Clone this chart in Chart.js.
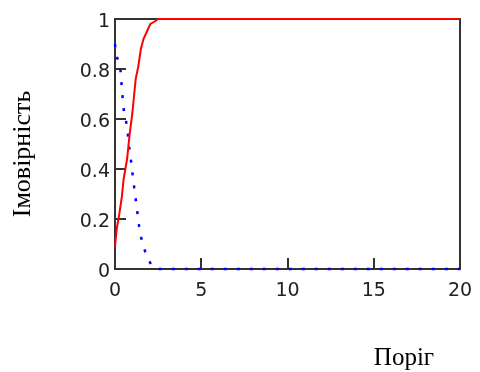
<!DOCTYPE html>
<html>
<head>
<meta charset="utf-8">
<script src="https://cdn.jsdelivr.net/npm/chart.js@4"></script>
<style>
  html, body { margin: 0; padding: 0; background: #fff; }
  #wrap { width: 480px; height: 372px; }
</style>
</head>
<body>
<div id="wrap"><canvas id="chart" width="480" height="372"></canvas></div>
<script>
// values
const redX = [0, 0.1, 0.25, 0.4, 0.5, 0.7, 0.85, 1.0, 1.1, 1.2, 1.35, 1.5, 1.65, 1.85, 2.05, 2.3, 2.5, 20];
const redY = [0.09, 0.16, 0.22, 0.29, 0.36, 0.44, 0.54, 0.62, 0.69, 0.76, 0.81, 0.88, 0.92, 0.95, 0.98, 0.99, 1, 1];
const blueX = [0, 0.05, 0.3, 0.4, 0.5, 0.7, 0.8, 0.9, 1.05, 1.2, 1.4, 1.5, 1.65, 1.85, 2.15, 2.5, 20];
const blueY = [0.9, 0.86, 0.81, 0.72, 0.64, 0.57, 0.5, 0.45, 0.36, 0.28, 0.17, 0.13, 0.09, 0.05, 0.01, 0, 0];
const xTicks = [0, 5, 10, 15, 20];
const yTicks = [0, 0.2, 0.4, 0.6, 0.8, 1];
const xTitle = "Поріг";
const yTitle = "Імовірність";

const toPoints = (xs, ys) => xs.map((x, i) => ({ x: x, y: ys[i] }));

const axisColor = "#333";
const tickFont = { family: "DejaVu Sans", size: 19 };

// frame round the plot + the two axis titles (drawn under the lines)
const framePlugin = {
  id: "frame",
  beforeDatasetsDraw(chart) {
    const { ctx, chartArea } = chart;
    ctx.save();
    ctx.strokeStyle = axisColor;
    ctx.lineWidth = 2;
    ctx.strokeRect(chartArea.left, chartArea.top, chartArea.right - chartArea.left, chartArea.bottom - chartArea.top);

    ctx.fillStyle = "#000";
    ctx.font = "25px 'Liberation Serif'";
    ctx.textAlign = "center";
    ctx.textBaseline = "alphabetic";
    ctx.fillText(xTitle, chartArea.right - 56, chartArea.bottom + 96);

    ctx.font = "26px 'Liberation Serif'";
    ctx.translate(30, (chartArea.top + chartArea.bottom) / 2 + 10);
    ctx.rotate(-Math.PI / 2);
    ctx.fillText(yTitle, 0, 0);
    ctx.restore();
  },
};

// fixed axis sizes, no extra room for overhanging labels
const fixSize = (w, h) => (scale) => {
  if (w) scale.width = w;
  if (h) scale.height = h;
  scale.paddingTop = 0;
  scale.paddingBottom = 0;
  scale.paddingLeft = 0;
  scale.paddingRight = 0;
};

new Chart(document.getElementById("chart"), {
  type: "line",
  data: {
    datasets: [
      {
        label: "red",
        data: toPoints(redX, redY),
        borderColor: "#ff0000",
        borderWidth: 2,
        pointRadius: 0,
        tension: 0,
        clip: 2,
      },
      {
        label: "blue",
        data: toPoints(blueX, blueY),
        borderColor: "#0000ff",
        borderWidth: 2.5,
        borderDash: [3, 10],
        pointRadius: 0,
        tension: 0,
        clip: 2,
      },
    ],
  },
  options: {
    responsive: false,
    animation: false,
    layout: { padding: { left: 0, right: 20, top: 19, bottom: 0 } },
    plugins: {
      legend: { display: false },
      tooltip: { enabled: false },
    },
    scales: {
      x: {
        type: "linear",
        min: 0,
        max: 20,
        afterBuildTicks: (scale) => { scale.ticks = xTicks.map((v) => ({ value: v })); },
        afterFit: fixSize(0, 103),
        grid: { drawOnChartArea: false, drawTicks: true, tickLength: -11, color: axisColor, lineWidth: 2 },
        border: { color: axisColor, width: 2 },
        ticks: { color: "#222", font: tickFont, padding: 22, maxRotation: 0 },
      },
      y: {
        min: 0,
        max: 1,
        afterBuildTicks: (scale) => { scale.ticks = yTicks.map((v) => ({ value: v })); },
        afterFit: fixSize(115, 0),
        grid: { drawOnChartArea: false, drawTicks: true, tickLength: -11, color: axisColor, lineWidth: 2 },
        border: { color: axisColor, width: 2 },
        ticks: { color: "#222", font: tickFont, padding: 16, labelOffset: 3, callback: (v) => String(v) },
      },
    },
  },
  plugins: [framePlugin],
});
</script>
</body>
</html>
